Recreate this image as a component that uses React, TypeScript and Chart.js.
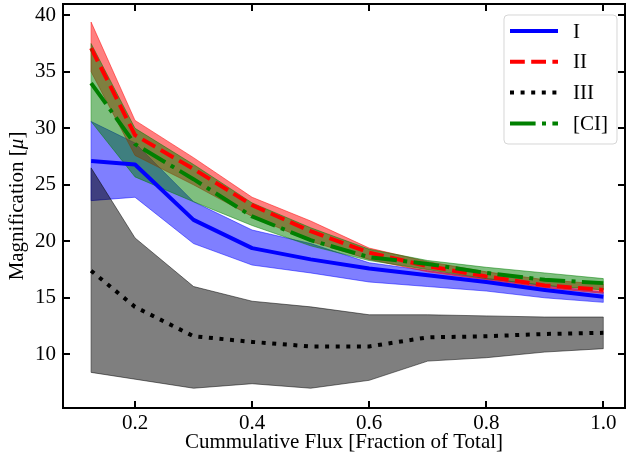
import React, { useEffect, useRef } from 'react';
import { Chart, registerables } from 'chart.js';

Chart.register(...registerables);

// ---- data ----
const fluxFractions = [0.125, 0.2, 0.3, 0.4, 0.5, 0.6, 0.7, 0.8, 0.9, 1.0];

const magI = [27.1, 26.8, 21.9, 19.4, 18.4, 17.6, 17.0, 16.4, 15.7, 15.1];
const magILow = [23.6, 23.9, 19.8, 17.9, 17.2, 16.4, 16.0, 15.6, 15.0, 14.6];
const magIHigh = [30.6, 28.7, 23.5, 21.0, 19.8, 18.1, 17.4, 16.7, 16.1, 15.5];

const magII = [37.1, 29.4, 26.4, 23.2, 20.9, 19.0, 17.8, 16.9, 16.1, 15.7];
const magIILow = [35.0, 27.6, 25.0, 22.2, 20.0, 18.4, 17.3, 16.6, 15.9, 15.4];
const magIIHigh = [39.4, 30.7, 27.4, 23.9, 21.8, 19.4, 18.2, 17.3, 16.6, 16.2];

const magIII = [17.4, 14.2, 11.6, 11.1, 10.7, 10.7, 11.5, 11.6, 11.8, 11.9];
const magIIILow = [8.4, 7.8, 7.0, 7.4, 7.0, 7.7, 9.4, 9.7, 10.2, 10.5];
const magIIIHigh = [26.5, 20.3, 16.0, 14.7, 14.2, 13.5, 13.5, 13.4, 13.3, 13.3];

const magCI = [34.0, 28.6, 25.5, 22.2, 20.1, 18.6, 18.0, 17.2, 16.6, 16.3];
const magCILow = [30.6, 25.7, 23.5, 21.4, 19.6, 18.3, 17.5, 16.7, 16.1, 15.7];
const magCIHigh = [37.5, 30.0, 26.8, 23.4, 21.2, 19.3, 18.3, 17.7, 17.2, 16.7];

const seriesLabels = ['I', 'II', 'III', '[CI]'];
const xTickValues = [0.2, 0.4, 0.6, 0.8, 1.0];
const yTickValues = [10, 15, 20, 25, 30, 35, 40];
const xTitle = 'Cummulative Flux [Fraction of Total]';
const yTitleMain = 'Magnification [';
const yTitleSymbol = 'μ';
const yTitleEnd = ']';

const FONT = '"Liberation Serif", "Times New Roman", serif';
const FS = 21;

const lineStyles = [
  { color: '#0000ff', dash: [] as number[] },
  { color: '#ff0000', dash: [14.8, 6.4] },
  { color: '#000000', dash: [4, 6.6] },
  { color: '#008000', dash: [25.6, 6.4, 4, 6.4] },
];

const bandDefs = [
  { lo: magILow, hi: magIHigh, fill: 'rgba(0,0,255,0.5)' },
  { lo: magIILow, hi: magIIHigh, fill: 'rgba(255,0,0,0.5)' },
  { lo: magIIILow, hi: magIIIHigh, fill: 'rgba(0,0,0,0.5)' },
  { lo: magCILow, hi: magCIHigh, fill: 'rgba(0,128,0,0.5)' },
];

const decorPlugin = {
  id: 'decor',
  afterDatasetsDraw(chart: any) {
    // vertical end edges of the shaded bands (as fill_between polygons have)
    const { ctx, scales } = chart;
    const xs = scales.x;
    const ys = scales.y;
    const n = fluxFractions.length;
    ctx.save();
    ctx.lineWidth = 1;
    bandDefs.forEach((b) => {
      ctx.strokeStyle = b.fill;
      ctx.beginPath();
      [0, n - 1].forEach((i) => {
        const px = xs.getPixelForValue(fluxFractions[i]);
        ctx.moveTo(px, ys.getPixelForValue(b.lo[i]));
        ctx.lineTo(px, ys.getPixelForValue(b.hi[i]));
      });
      ctx.stroke();
    });
    ctx.restore();
  },
  afterDraw(chart: any) {
    const { ctx, chartArea: a, scales } = chart;
    const xs = scales.x;
    const ys = scales.y;
    ctx.save();
    // frame
    ctx.strokeStyle = '#000';
    ctx.lineWidth = 2;
    ctx.setLineDash([]);
    ctx.strokeRect(a.left, a.top, a.right - a.left, a.bottom - a.top);
    // inward ticks on all sides
    const L = 7;
    ctx.beginPath();
    xs.ticks.forEach((t: any) => {
      const px = Math.round(xs.getPixelForValue(t.value));
      ctx.moveTo(px, a.bottom);
      ctx.lineTo(px, a.bottom - L);
      ctx.moveTo(px, a.top);
      ctx.lineTo(px, a.top + L);
    });
    ys.ticks.forEach((t: any) => {
      const py = Math.round(ys.getPixelForValue(t.value));
      ctx.moveTo(a.left, py);
      ctx.lineTo(a.left + L, py);
      ctx.moveTo(a.right, py);
      ctx.lineTo(a.right - L, py);
    });
    ctx.stroke();

    // x title
    ctx.fillStyle = '#000';
    ctx.font = `${FS}px ${FONT}`;
    ctx.textAlign = 'center';
    ctx.textBaseline = 'middle';
    ctx.fillText(xTitle, (a.left + a.right) / 2, a.bottom + 34);

    // y title with italic mu
    ctx.save();
    ctx.translate(17, (a.top + a.bottom) / 2);
    ctx.rotate(-Math.PI / 2);
    ctx.textAlign = 'left';
    const fN = `${FS}px ${FONT}`;
    const fI = `italic ${FS}px ${FONT}`;
    ctx.font = fN;
    const w1 = ctx.measureText(yTitleMain).width;
    const w3 = ctx.measureText(yTitleEnd).width;
    ctx.font = fI;
    const w2 = ctx.measureText(yTitleSymbol).width;
    let cx = -(w1 + w2 + w3) / 2;
    ctx.font = fN;
    ctx.fillText(yTitleMain, cx, 0);
    cx += w1;
    ctx.font = fI;
    ctx.fillText(yTitleSymbol, cx, 0);
    cx += w2;
    ctx.font = fN;
    ctx.fillText(yTitleEnd, cx, 0);
    ctx.restore();

    // legend
    const bx = a.right - 121, by = a.top + 11, bw = 113, bh = 129, r = 4;
    ctx.beginPath();
    ctx.moveTo(bx + r, by);
    ctx.arcTo(bx + bw, by, bx + bw, by + bh, r);
    ctx.arcTo(bx + bw, by + bh, bx, by + bh, r);
    ctx.arcTo(bx, by + bh, bx, by, r);
    ctx.arcTo(bx, by, bx + bw, by, r);
    ctx.closePath();
    ctx.fillStyle = 'rgba(255,255,255,0.8)';
    ctx.fill();
    ctx.strokeStyle = 'rgba(204,204,204,0.8)';
    ctx.lineWidth = 1;
    ctx.stroke();

    seriesLabels.forEach((lab, i) => {
      const rowY = by + 16 + i * 30.8;
      const st = lineStyles[i];
      ctx.beginPath();
      ctx.strokeStyle = st.color;
      ctx.lineWidth = 4;
      ctx.lineCap = 'butt';
      ctx.setLineDash(st.dash);
      ctx.moveTo(bx + 6, rowY);
      ctx.lineTo(bx + 54, rowY);
      ctx.stroke();
      ctx.setLineDash([]);
      ctx.fillStyle = '#000';
      ctx.font = `${FS}px ${FONT}`;
      ctx.textAlign = 'left';
      ctx.textBaseline = 'middle';
      ctx.fillText(lab, bx + 69, rowY + 1);
    });
    ctx.restore();
  },
};

export default function App() {
  const ref = useRef<HTMLCanvasElement>(null);

  useEffect(() => {
    const canvas = ref.current;
    if (!canvas) return;
    const pts = (ys: number[]) => fluxFractions.map((x, i) => ({ x, y: ys[i] }));
    const band = (idx: number, order: number) => {
      const b = bandDefs[idx];
      return [
        { label: 'lo', data: pts(b.lo), borderColor: b.fill, borderWidth: 1, pointRadius: 0, fill: false, order: order + 1 },
        { label: 'hi', data: pts(b.hi), borderColor: b.fill, borderWidth: 1, pointRadius: 0, backgroundColor: b.fill, fill: '-1', order },
      ];
    };
    const line = (ys: number[], idx: number, order: number) => ({
      label: seriesLabels[idx],
      data: pts(ys),
      borderColor: lineStyles[idx].color,
      borderWidth: 4,
      borderDash: lineStyles[idx].dash,
      borderCapStyle: 'butt',
      borderJoinStyle: 'round',
      pointRadius: 0,
      fill: false,
      order,
    });
    const noPad = (s: any) => {
      s.paddingTop = 0;
      s.paddingBottom = 0;
      s.paddingLeft = 0;
      s.paddingRight = 0;
    };

    const chart = new Chart(canvas, {
      type: 'line',
      data: {
        datasets: [
          ...band(0, 100),
          ...band(1, 90),
          ...band(2, 80),
          ...band(3, 70),
          line(magI, 0, 40),
          line(magII, 1, 30),
          line(magIII, 2, 20),
          line(magCI, 3, 10),
        ] as any,
      },
      options: {
        responsive: false,
        animation: false,
        devicePixelRatio: 1,
        layout: { padding: { top: 4, right: 3, left: 0, bottom: 0 }, autoPadding: false },
        plugins: { legend: { display: false }, tooltip: { enabled: false } },
        scales: {
          x: {
            type: 'linear',
            min: 0.077,
            max: 1.037,
            grid: { display: false, drawTicks: false },
            border: { display: false },
            afterBuildTicks: (s: any) => { s.ticks = xTickValues.map((v) => ({ value: v })); },
            afterFit: (s: any) => { s.height = 52; noPad(s); },
            ticks: {
              padding: 3,
              color: '#000',
              font: { family: FONT, size: FS },
              maxRotation: 0,
              callback: (v: any) => Number(v).toFixed(1),
            },
          },
          y: {
            type: 'linear',
            min: 5.25,
            max: 41,
            grid: { display: false, drawTicks: false },
            border: { display: false },
            afterBuildTicks: (s: any) => { s.ticks = yTickValues.map((v) => ({ value: v })); },
            afterFit: (s: any) => { s.width = 63; noPad(s); },
            ticks: {
              padding: 7,
              color: '#000',
              font: { family: FONT, size: FS },
              callback: (v: any) => String(v),
            },
          },
        },
      } as any,
      plugins: [decorPlugin],
    });
    return () => chart.destroy();
  }, []);

  return (
    <div style={{ position: 'fixed', left: 0, top: 0, width: 628, height: 460, background: '#fff' }}>
      <canvas ref={ref} width={628} height={460} style={{ display: 'block' }} />
    </div>
  );
}
